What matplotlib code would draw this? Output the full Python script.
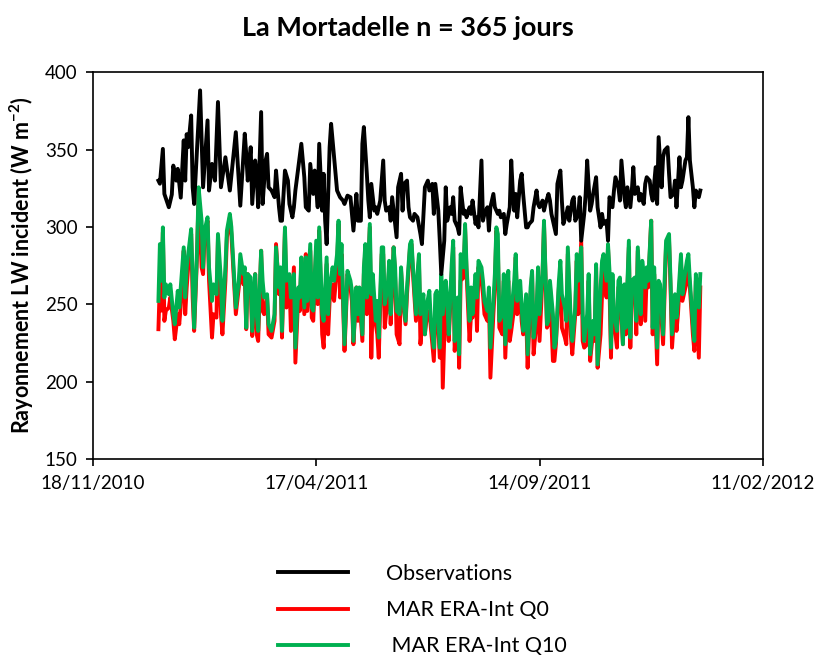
import datetime as dt
import matplotlib
matplotlib.use("Agg")
from matplotlib import pyplot as plt
import matplotlib.dates as mdates

plt.rcParams['font.family'] = ['Lato', 'DejaVu Sans']

# Jours depuis le 01/01/2011 et valeurs journalieres (W m-2)
obs_jour = [0, 1, 3, 4, 7, 9, 10, 12, 13, 15, 17, 18, 19, 20, 22, 23, 24, 28, 30, 33,
            34, 36, 38, 40, 42, 45, 48, 52, 55, 58,
            59, 60, 62, 63, 65, 66, 67, 69, 70, 72, 73, 74, 76, 78, 79, 81, 82, 83, 85, 87,
            88, 90, 91, 92, 94, 96, 98, 99, 101, 102, 104, 105, 107, 108, 110, 111, 112, 113, 115, 116,
            118,
            120, 122, 124, 125, 127, 129, 130, 131, 133, 134, 136, 137, 138, 140, 141, 142, 143, 145, 146, 147,
            149, 151, 152, 153, 155, 156, 157, 159, 160, 161, 163, 164, 165, 167, 168, 169, 171, 172, 174, 176,
            177, 179,
            181, 182, 184, 185, 186, 188, 189, 190, 192, 193, 194, 196, 197, 198, 199, 201, 202, 203, 205, 206,
            207, 209, 210, 211, 213, 214, 215, 217, 218, 219, 221, 222, 223, 225, 226, 228, 229, 230, 232, 233,
            234, 236, 237, 238, 239,
            240, 241, 243, 244, 245, 247, 248, 249, 251, 252, 254, 255, 256, 258, 259, 260, 262, 263, 264, 266,
            267, 268, 270, 271, 272, 274, 275, 276, 278, 279, 280, 282, 283, 284, 286, 287, 288, 290, 291, 292,
            294, 295,
            297, 298, 299, 301, 302, 303, 305, 306, 307, 309, 310, 311, 313, 314, 315, 317, 318, 319, 320, 322,
            323, 324, 326, 327, 328, 330, 331, 332, 334, 335, 336, 338, 339, 340, 342, 343, 344, 346, 347, 348,
            350, 351, 352, 354, 355, 356, 357, 359, 360, 361, 363, 364]

obs = [330, 328, 350.5, 321.4, 312.8, 321, 339.7, 330, 337.6, 319, 356, 330, 360, 351.6, 372.1, 325.7, 314.9, 388.3, 325.7, 368.9,
       323.6, 340.8, 330, 380.8, 325.7, 345.1, 323.6, 361.3, 313.8, 360.3,
       347.3, 330, 351.6, 314.9, 343, 334.4, 312.8, 374.3, 314.9, 343, 347.3, 325.7, 323.6, 319.3, 336.5, 312.8, 304.1, 304.1, 336.5, 330,
       314.9, 306.3, 312.8, 323.6, 338.7, 353.8, 332.2, 312.8, 310.6, 340.8, 321.4, 336.5, 312.8, 353.8, 310.6, 334.4, 304.1, 289, 351.6, 366.7,
       345.1,
       323.6, 319.3, 317.1, 314.9, 320.3, 319.3, 308.5, 297.7, 321.4, 304.1, 304.1, 353.8, 364.6, 334.4, 317.1, 306.3, 327.9, 310.6, 312.8, 308.5,
       317.1, 343, 317.1, 310.6, 312.8, 304.1, 319.3, 302, 293.4, 325.7, 334.4, 310.6, 327.9, 330, 312.8, 306.3, 304.1, 308.5, 306.3, 295.5,
       289, 325.7,
       330, 323.6, 327.9, 308.5, 327.9, 310.6, 291.2, 269.6, 291.2, 325.7, 304.1, 312.8, 308.5, 319.3, 304.1, 299.8, 295.5, 325.7, 308.5, 310.6,
       306.3, 312.8, 308.5, 317.1, 302, 306.3, 299.8, 343, 304.1, 308.5, 312.8, 297.7, 312.8, 321.4, 312.8, 308.5, 310.6, 306.3, 308.5, 295.5,
       302, 312.8, 343, 323.6, 310.6,
       321.4, 306.3, 330, 334.4, 321.4, 299.8, 299.8, 302, 304.1, 312.8, 323.6, 314.9, 312.8, 317.1, 310.6, 314.9, 321.4, 317.1, 308.5, 299.8,
       295.5, 327.9, 336.5, 317.1, 302, 308.5, 312.8, 304.1, 317.1, 319.3, 304.1, 308.5, 319.3, 291.2, 308.5, 321.4, 343, 310.6, 314.9, 321.4,
       332.2, 312.8,
       299.8, 308.5, 302, 304.1, 291.2, 319.3, 312.8, 323.6, 332.2, 325.7, 317.1, 343, 319.3, 312.8, 325.7, 312.8, 323.6, 338.7, 321.4, 325.7,
       317.1, 321.4, 314.9, 327.9, 332.2, 330, 321.4, 317.1, 338.7, 314.9, 358.1, 325.7, 345.1, 349.5, 351.6, 334.4, 319.3, 321.4, 330, 312.8,
       345.1, 325.7, 330, 343, 345.1, 371, 343, 325.7, 312.8, 323.6, 319.3, 323.6]

mar_jour = [0, 1, 2, 3, 4, 5, 7, 8, 10, 11, 13, 14, 16, 17, 18, 19, 20, 22, 23, 24,
            26, 27, 29, 30, 31, 33, 34, 36, 37, 39, 40, 42, 43, 45, 46, 48, 49, 51, 52, 54,
            55, 57, 58,
            59, 60, 62, 63, 65, 66, 67, 69, 70, 71, 73, 74, 76, 78, 79, 81, 82, 83, 85, 86,
            88, 89, 91, 92, 94, 95, 96, 98, 99, 100, 102, 103, 104, 106, 107, 108, 110, 111, 113, 114,
            115, 117, 118,
            120, 121, 122, 123, 125, 126, 127, 129, 130, 131, 133, 134, 135, 137, 138, 139, 140, 142, 143, 144,
            146, 147, 148, 150, 151, 152, 154, 155, 156, 158, 159, 160, 162, 163, 164, 166, 167, 169, 170, 171,
            173, 174, 175, 176, 178, 179,
            180, 182, 183, 185, 186, 187, 189, 190, 191, 193, 194, 195, 197, 198, 199, 201, 202, 203, 205, 206,
            207, 209, 210, 211, 213, 214, 215, 217, 218, 219, 221, 222, 223, 225, 226, 227, 228, 229, 231, 232,
            233, 235, 236, 237, 239,
            240, 241, 243, 244, 245, 247, 248, 250, 251, 252, 254, 255, 256, 258, 259, 261, 262, 263, 265, 266,
            267, 269, 270, 271, 273, 274, 275, 277, 278, 280, 281, 282, 284, 285, 286, 288, 289, 290, 292, 293,
            294, 295,
            297, 298, 299, 301, 302, 303, 304, 305, 306, 308, 309, 310, 312, 313, 314, 316, 317, 318, 320, 321,
            322, 324, 325, 327, 328, 329, 331, 332, 333, 335, 336, 337, 339, 340, 341, 343, 344, 345, 347, 348,
            349, 351, 352, 353, 355, 356, 357, 359, 360, 361, 363, 364]

q0 = [234, 265, 246, 296.6, 239.4, 246, 248, 254.5, 239.4, 227.5, 243.7, 237.2, 261, 284.7, 243.7, 261, 274, 295.5, 254.5, 232.9,
      282.5, 323.6, 274, 269.6, 293.4, 304, 265.3, 228.6, 243.7, 241.5, 293.4, 243.7, 230.7, 265.3, 293.4, 306.3, 295.5, 261, 243.7, 261,
      274, 263, 267.4,
      234, 269.6, 261, 229.6, 269.6, 230.7, 226.4, 284.7, 245.8, 243.7, 254.5, 230.7, 228.6, 239.4, 289, 256.6, 271.7, 228.6, 297.7, 248,
      265.3, 232.9, 274, 212.4, 256.6, 245.8, 278.2, 243.7, 282.5, 245.8, 284.7, 241.5, 239.4, 286.9, 250.2, 297.7, 230.7, 222.1, 276, 230.7,
      252.3, 263, 252.3,
      274, 302, 254.5, 282.5, 220, 243.7, 269.6, 261, 252, 224.3, 261, 239.4, 254.5, 226.4, 269.6, 284.7, 243.7, 299.8, 215.6, 254.5,
      237.2, 230.7, 215.6, 282.5, 282.5, 235, 254.5, 274, 237.2, 286.9, 267.4, 230.7, 224.3, 271.7, 254.5, 237.2, 256.6, 286.9, 289, 269.6,
      239.4, 265.3, 278.2, 224.3, 245.8, 230.7,
      239.4, 245.8, 235, 213.5, 243.7, 254.5, 215.6, 265.3, 196.2, 261, 239.4, 226.4, 269.6, 286.9, 220, 250.2, 209.1, 265.3, 267.4, 299,
      269.6, 226.4, 243.7, 241.5, 265.3, 232.9, 274, 265.3, 256.6, 243.7, 239.4, 254.5, 202.7, 243.7, 261, 297.7, 286.9, 235, 230.7, 265.3,
      215.6, 265.3, 226.4, 232.9, 248,
      280.4, 243.7, 258.8, 239.4, 230.7, 243.7, 209.1, 256.6, 269.6, 217.8, 239.4, 267.4, 226.4, 267.4, 302, 235, 237.2, 263, 213.5, 213.5,
      224.3, 261, 269.6, 235, 228.6, 224.3, 282.5, 230.7, 217.8, 243.7, 278.2, 243.7, 291.2, 226.4, 222.1, 224.3, 265.3, 213.5, 232.9, 226.4,
      274, 209.1,
      230.7, 256.6, 274, 254.5, 286.9, 261, 215.6, 265.3, 239.4, 222.1, 261, 261, 224.3, 261, 230.7, 286.9, 222.1, 261, 261, 230.7,
      284.7, 237.2, 274, 239.4, 269.6, 261, 304.1, 230.7, 269.6, 211.3, 261, 256.6, 224.3, 256.6, 289, 291.2, 261, 222.1, 252.3, 232.9,
      243.7, 278.2, 252.3, 256.6, 265.3, 274, 261, 230.7, 220, 265.3, 215.6, 261]

q10 = [252.3, 289, 265.3, 299.8, 254.5, 263, 256.6, 263, 243.7, 237.2, 258.8, 248, 273.9, 286.9, 254.5, 274, 282.5, 298.7, 265.3, 235,
       286.9, 325.7, 304, 274, 297.7, 306.3, 274, 252.3, 263, 256.6, 295.5, 265.3, 239.4, 274, 297.7, 308.5, 300, 265.3, 248, 265.3,
       282.5, 269.6, 274,
       235, 269.6, 267.4, 232.9, 269.6, 243.7, 232.9, 284.7, 265.3, 254.5, 256.6, 237.2, 232.9, 243.7, 286.9, 261, 274, 232.9, 299.8, 265.3,
       269.6, 254.5, 269.6, 222.1, 261, 254.5, 280.4, 248, 280.4, 252.3, 289, 248, 246, 291.2, 254.5, 299.8, 243.7, 239.4, 280.4, 243.7,
       261, 274, 265.3,
       282.5, 304.1, 269.6, 289, 224.3, 248, 271.7, 265.3, 258.8, 226.4, 261, 243.7, 261, 230.7, 274, 289, 254.5, 302, 256.6, 269.6,
       239.4, 252.3, 228.6, 286.9, 286.9, 250.2, 261, 278.2, 243.7, 286.9, 274, 245.8, 243.7, 274, 256.6, 239.4, 261, 289, 291.2, 274,
       243.7, 269.6, 282.5, 243.7, 256.6, 230.7,
       248, 258.8, 239.4, 222.1, 256.6, 258.8, 222.1, 269.6, 243.7, 265.3, 252.3, 230.7, 276, 291.2, 226.4, 254.5, 217.8, 282.5, 274, 302,
       274, 239.4, 261, 243.7, 269.6, 254.5, 278.2, 274, 265.3, 252.3, 245.8, 261, 222.1, 252.3, 269.6, 299.8, 295.5, 239.4, 243.7, 269.6,
       224.3, 271.7, 235, 243.7, 265.3,
       282.5, 252.3, 265.3, 248, 232.9, 256.6, 217.8, 261, 271.7, 228.6, 245.8, 274, 243.7, 269.6, 304.1, 237.2, 239.4, 265.3, 243.7, 222.1,
       226.4, 265.3, 278.2, 256.6, 248, 239.4, 286.9, 239.4, 226.4, 248, 282.5, 265.3, 286.9, 243.7, 226.4, 243.7, 269.6, 217.8, 239.4, 230.7,
       276, 211.3,
       261, 278.2, 282.5, 265.3, 289, 271.7, 222.1, 269.6, 243.7, 232.9, 265.3, 267.4, 224.3, 263, 235, 291.2, 228.6, 265.3, 267.4, 239.4,
       286.9, 243.7, 278.2, 261, 274, 265.3, 304.1, 235, 274, 222.1, 265.3, 263, 230.7, 265.3, 291.2, 295.5, 265.3, 230.7, 256.6, 241.5,
       252.3, 282.5, 256.6, 265.3, 278.2, 282.5, 265.3, 237.2, 226.4, 269.6, 248, 269.6]

debut = dt.date(2011, 1, 1)
obs_dates = [debut + dt.timedelta(days=j) for j in obs_jour]
mar_dates = [debut + dt.timedelta(days=j) for j in mar_jour]

tick_dates = [dt.date(2010, 11, 18), dt.date(2011, 4, 17), dt.date(2011, 9, 14), dt.date(2012, 2, 11)]

fig = plt.figure(figsize=(8.15, 6.57), dpi=100)
ax = fig.add_axes([0.114, 0.301, 0.822, 0.589])

l_obs, = ax.plot(obs_dates, obs, color='black', lw=2.8, label='Observations')
l_q0, = ax.plot(mar_dates, q0, color='#FF0000', lw=2.8, label='MAR ERA-Int Q0')
l_q10, = ax.plot(mar_dates, q10, color='#00B050', lw=2.8, label=' MAR ERA-Int Q10')
l_obs.set_zorder(4)

ax.set_xlim(tick_dates[0], tick_dates[-1])
ax.set_xticks(tick_dates)
ax.xaxis.set_major_formatter(mdates.DateFormatter('%d/%m/%Y'))
ax.set_ylim(150, 400)
ax.set_yticks(range(150, 401, 50))
ax.tick_params(direction='out', length=5, width=1.2, labelsize=13.5, pad=6)
for sp in ax.spines.values():
    sp.set_linewidth(1.2)

ax.set_ylabel('Rayonnement LW incident (W m$^{\\mathregular{-2}}$)', fontsize=15.5, fontweight='bold', labelpad=6)
fig.text(0.5, 0.957, 'La Mortadelle n = 365 jours', ha='center', va='center', fontsize=19.5, fontweight='bold')

fig.legend(handles=[l_obs, l_q0, l_q10], loc='upper left', bbox_to_anchor=(0.328, 0.158),
           frameon=False, fontsize=15.5, handlelength=3.25, handletextpad=1.75, labelspacing=0.75, borderpad=0)

fig.savefig('out.png', dpi=100)
